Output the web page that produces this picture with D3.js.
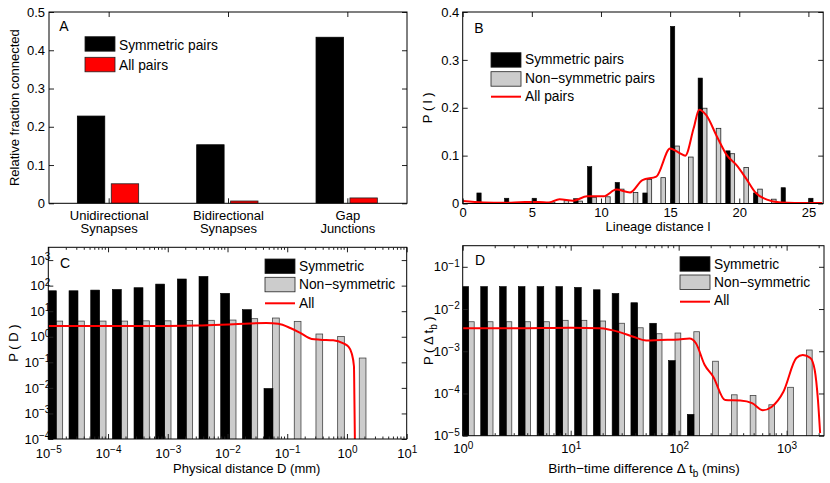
<!DOCTYPE html>
<html>
<head>
<meta charset="utf-8">
<script src="https://cdn.jsdelivr.net/npm/d3@7/dist/d3.min.js"></script>
<style>
  body { margin: 0; background: #fff; }
  svg { font-family: "Liberation Sans", Arial, Helvetica, sans-serif; font-size: 13px; }
  .leg { font-size: 13.8px; }
</style>
</head>
<body>
<div id="chart"></div>
<script>
// ---- panel A: connection fractions ----
var aCategories = [["Unidirectional", "Synapses"], ["Bidirectional", "Synapses"], ["Gap", "Junctions"]];
var aSymmetric = [0.228, 0.153, 0.434];
var aAllPairs = [0.051, 0.006, 0.014];
var aYTicks = [0, 0.1, 0.2, 0.3, 0.4, 0.5];

// ---- panel B: lineage distance ----
var bSymL = [1, 3, 5, 8, 9, 11, 13, 15, 17, 19, 21, 23, 25];
var bSymP = [0.022, 0.011, 0.011, 0.010, 0.077, 0.044, 0.022, 0.370, 0.262, 0.110, 0.022, 0.033, 0.011];
var bNonL = [6, 7, 8, 9, 10, 11, 12, 13, 14, 15, 16, 17, 18, 19, 20, 21, 22];
var bNonP = [0.003, 0.006, 0.005, 0.013, 0.014, 0.030, 0.023, 0.050, 0.054, 0.120, 0.097, 0.199, 0.157, 0.104, 0.075, 0.030, 0.009];
var bAllL = [0, 1.5, 3, 4.5, 5.5, 6.2, 7, 8, 9, 10.2, 11.1, 12.1, 13, 14, 15, 15.7, 16.1, 16.7, 17.1, 17.6, 18.4, 19.1, 19.8, 20.5, 21.2, 22, 23, 24, 26];
var bAllP = [0.005, 0.002, 0.0015, 0.003, 0.003, 0.002, 0.009, 0.006, 0.015, 0.015, 0.029, 0.023, 0.049, 0.056, 0.115, 0.105, 0.1, 0.157, 0.196, 0.185, 0.139, 0.101, 0.08, 0.052, 0.022, 0.008, 0.002, 0.001, 0.001];
var bXTicks = [0, 5, 10, 15, 20, 25];
var bYTicks = [0, 0.1, 0.2, 0.3, 0.4];

// ---- panel C: physical distance (log10 mm bin centres) ----
var cBins = [-4.816, -4.453, -4.09, -3.728, -3.365, -3.002, -2.64, -2.277, -1.914, -1.551, -1.189, -0.826, -0.463, -0.1, 0.262];
var cSym = [63, 63, 67, 71, 83, 115, 182, 229, 50, 11.5, 0.0095];
var cNon = [4.1, 4.1, 4.1, 4.1, 4.2, 4.2, 4.3, 4.4, 4.5, 5.1, 5.4, 4.0, 1.28, 1.03, 0.147];
var cAllLogD = [-5, -4, -3, -2.5, -1.9, -1.35, -1.15, -0.95, -0.79, -0.59, -0.45, -0.23, -0.06, 0.02, 0.08, 0.117, 0.125, 0.134];
var cAllP = [2.62, 2.62, 2.65, 2.75, 3.1, 3.45, 3.2, 2.2, 1.45, 0.82, 0.77, 0.73, 0.55, 0.42, 0.22, 0.07, 0.003, 0.00005];
var cXTicks = [-5, -4, -3, -2, -1, 0, 1];
var cYTicks = [-4, -3, -2, -1, 0, 1, 2, 3];

// ---- panel D: birth-time difference (log10 mins bin centres) ----
var dBins = [0.08, 0.254, 0.428, 0.602, 0.776, 0.95, 1.123, 1.297, 1.471, 1.645, 1.819, 1.993, 2.167, 2.341, 2.515, 2.689, 2.862, 3.036, 3.21];
var dSym = [0.034, 0.034, 0.034, 0.034, 0.034, 0.034, 0.0325, 0.0286, 0.0234, 0.0141, 0.0046, 0.0006, 0.000032];
var dNon = [0.005, 0.005, 0.005, 0.005, 0.005, 0.0054, 0.0054, 0.0052, 0.0046, 0.0036, 0.0026, 0.0027, 0.0029, 0.00058, 0.000093, 0.00009, 0.000054, 0.00014, 0.00107];
var dAllLogT = [0, 0.5, 1, 1.27, 1.46, 1.58, 1.7, 1.83, 2.0, 2.1, 2.16, 2.24, 2.32, 2.43, 2.57, 2.68, 2.78, 2.86, 2.97, 3.09, 3.15, 3.22, 3.26, 3.29, 3.31];
var dAllP = [0.0035, 0.0035, 0.0036, 0.0035, 0.0028, 0.0022, 0.0018, 0.00185, 0.0019, 0.002, 0.00155, 0.00048, 0.00025, 0.00007, 0.000068, 0.000059, 0.00004, 0.000048, 0.00011, 0.00069, 0.00081, 0.00069, 0.00036, 0.00007, 0.0000115];
var dXTicks = [0, 1, 2, 3];
var dYTicks = [-5, -4, -3, -2, -1];

var svgWidth = 830;
var svgHeight = 483;
var grey = "#cccccc";

var svg = d3.select("#chart").append("svg")
    .attr("width", svgWidth)
    .attr("height", svgHeight);

var boxA = {left: 49, top: 12, width: 358, height: 191.3};
var boxB = {left: 462.7, top: 12, width: 360.5, height: 191.5};
var boxC = {left: 48.3, top: 247.3, width: 358.4, height: 191.7};
var boxD = {left: 462.7, top: 245.7, width: 361.3, height: 190};

function makePanel(box, id) {
    var g = svg.append("g").attr("transform", `translate(${box.left},${box.top})`);
    g.append("clipPath").attr("id", id)
        .append("rect").attr("width", box.width).attr("height", box.height);
    var plot = g.append("g").attr("clip-path", `url(#${id})`);
    return {g: g, plot: plot};
}

function drawAxes(g, x, y, box, o) {
    var w = box.width, h = box.height;
    var gx = g.append("g").attr("transform", `translate(0,${h})`)
        .call(d3.axisBottom(x).tickValues(o.xTicks).tickSizeInner(-5).tickSizeOuter(0)
            .tickPadding(o.xPad).tickFormat(o.xFormat || (() => "")));
    g.append("g")
        .call(d3.axisTop(x).tickValues(o.xTicks).tickSizeInner(-5).tickSizeOuter(0).tickFormat(""));
    var gy = g.append("g")
        .call(d3.axisLeft(y).tickValues(o.yTicks).tickSizeInner(-5).tickSizeOuter(0)
            .tickPadding(o.yPad).tickFormat(o.yFormat || (() => "")));
    g.append("g").attr("transform", `translate(${w},0)`)
        .call(d3.axisRight(y).tickValues(o.yTicks).tickSizeInner(-5).tickSizeOuter(0).tickFormat(""));
    g.selectAll(".domain").remove();
    g.selectAll(".tick line").attr("stroke", "#222");
    g.selectAll("g").attr("font-size", null).attr("font-family", null);
    g.append("rect").attr("width", w).attr("height", h)
        .attr("fill", "none").attr("stroke", "#000").attr("stroke-width", 1);
    return {gx: gx, gy: gy};
}

function powerLabels(sel) {
    sel.selectAll(".tick text").each(function(d) {
        var t = d3.select(this);
        t.append("tspan").text("10");
        t.append("tspan").attr("dy", -4.8).style("font-size", "10px")
            .text(d < 0 ? "\u2212" + (-d) : d);
    });
}

function minorTicks(g, x, box, lo, hi) {
    var vals = [];
    for (var e = lo; e < hi; e++) {
        for (var m = 2; m <= 9; m++) vals.push(Math.log10(m) + e);
    }
    vals = vals.filter(v => v > x.domain()[0] && v < x.domain()[1]);
    g.selectAll(null).data(vals).enter().append("line")
        .attr("x1", d => x(d)).attr("x2", d => x(d))
        .attr("y1", box.height).attr("y2", box.height - 2.5)
        .attr("stroke", "#222");
    g.selectAll(null).data(vals).enter().append("line")
        .attr("x1", d => x(d)).attr("x2", d => x(d))
        .attr("y1", 0).attr("y2", 2.5)
        .attr("stroke", "#222");
}

function legend(g, x0, rows) {
    rows.forEach(function(r) {
        if (r.type === "line") {
            g.append("line").attr("x1", x0).attr("x2", x0 + 30)
                .attr("y1", r.y).attr("y2", r.y)
                .attr("stroke", "#ff0000").attr("stroke-width", 2);
        } else {
            g.append("rect").attr("x", x0).attr("y", r.y).attr("width", 30).attr("height", 14.5)
                .attr("fill", r.fill).attr("stroke", "#222").attr("stroke-width", 0.8);
        }
        g.append("text").attr("class", "leg").attr("x", x0 + 34).attr("y", r.ty).text(r.label);
    });
}

function letter(g, x, y, s) {
    g.append("text").attr("x", x).attr("y", y).style("font-size", "14px").text(s);
}

var redLine = function(x, y) {
    return d3.line().x(d => x(d[0])).y(d => y(d[1])).curve(d3.curveMonotoneX);
};

// ================= Panel A =================
(function() {
    var p = makePanel(boxA, "clipA");
    var x = d3.scaleLinear().domain([0.5, 3.5]).range([0, boxA.width]);
    var y = d3.scaleLinear().domain([0, 0.5]).range([boxA.height, 0]);
    var cats = [1, 2, 3];

    p.plot.selectAll(".sym").data(aSymmetric).enter().append("rect")
        .attr("x", (d, i) => x(cats[i]) - 31.3).attr("width", 27.4)
        .attr("y", d => y(d)).attr("height", d => y(0) - y(d))
        .attr("fill", "#000").attr("stroke", "#000").attr("stroke-width", 0.8);
    p.plot.selectAll(".all").data(aAllPairs).enter().append("rect")
        .attr("x", (d, i) => x(cats[i]) + 2.6).attr("width", 27.4)
        .attr("y", d => y(d)).attr("height", d => y(0) - y(d))
        .attr("fill", "#ff0000").attr("stroke", "#222").attr("stroke-width", 0.8);

    var ax = drawAxes(p.g, x, y, boxA, {
        xTicks: cats, xPad: 7, yTicks: aYTicks, yPad: 4,
        yFormat: d => d === 0 ? "0" : d3.format(".1f")(d)
    });
    ax.gx.selectAll(".tick text").each(function(d) {
        var t = d3.select(this);
        t.append("tspan").attr("x", 0).text(aCategories[d - 1][0]);
        t.append("tspan").attr("x", 0).attr("dy", 13.5).text(aCategories[d - 1][1]);
    });

    p.g.append("text").attr("transform", `translate(-30,${boxA.height / 2}) rotate(-90)`)
        .attr("text-anchor", "middle").text("Relative fraction connected");

    letter(p.g, 10.3, 19, "A");
    legend(p.g, 36, [
        {fill: "#000", y: 24.7, ty: 37.5, label: "Symmetric pairs"},
        {fill: "#ff0000", y: 45.3, ty: 57.5, label: "All pairs"}
    ]);
})();

// ================= Panel B =================
(function() {
    var p = makePanel(boxB, "clipB");
    var x = d3.scaleLinear().domain([0, 26.07]).range([0, boxB.width]);
    var y = d3.scaleLinear().domain([0, 0.4]).range([boxB.height, 0]);
    var symOff = 0.18, nonOff = 0.5, symW = 0.31, nonW = 0.33;

    p.plot.selectAll(".non").data(bNonP).enter().append("rect")
        .attr("x", (d, i) => x(bNonL[i] + nonOff - nonW / 2))
        .attr("width", x(nonW) - x(0))
        .attr("y", d => y(d)).attr("height", d => y(0) - y(d))
        .attr("fill", grey).attr("stroke", "#222").attr("stroke-width", 0.8);
    p.plot.selectAll(".sym").data(bSymP).enter().append("rect")
        .attr("x", (d, i) => x(bSymL[i] + symOff - symW / 2))
        .attr("width", x(symW) - x(0))
        .attr("y", d => y(d)).attr("height", d => y(0) - y(d))
        .attr("fill", "#000").attr("stroke", "#000").attr("stroke-width", 0.6);
    p.plot.append("path").datum(bAllL.map((l, i) => [l, bAllP[i]]))
        .attr("d", redLine(x, y)).attr("fill", "none")
        .attr("stroke", "#ff0000").attr("stroke-width", 2);

    drawAxes(p.g, x, y, boxB, {
        xTicks: bXTicks, xPad: 3.8, xFormat: d => d,
        yTicks: bYTicks, yPad: 3.4, yFormat: d => d === 0 ? "0" : d3.format(".1f")(d)
    });

    p.g.append("text").attr("x", boxB.width / 2 + 15).attr("y", 230.5 - boxB.top)
        .attr("text-anchor", "middle").text("Lineage distance l");
    p.g.append("text").attr("transform", `translate(-30.7,${boxB.height / 2}) rotate(-90)`)
        .attr("text-anchor", "middle").text("P ( l )");

    letter(p.g, 11.6, 21.3, "B");
    legend(p.g, 28.3, [
        {fill: "#000", y: 40.7, ty: 51.7, label: "Symmetric pairs"},
        {fill: grey, y: 59.7, ty: 70.5, label: "Non\u2212symmetric pairs"},
        {type: "line", y: 84.7, ty: 89, label: "All pairs"}
    ]);
})();

// ================= Panel C =================
(function() {
    var p = makePanel(boxC, "clipC");
    var x = d3.scaleLinear().domain([-5, 1]).range([0, boxC.width]);
    var ly = d3.scaleLinear().domain([-4, 3.5]).range([boxC.height, 0]);
    var y = v => ly(Math.log10(v));
    var symOff = -0.125, nonOff = 0, symW = 0.15, nonW = 0.112;

    p.plot.selectAll(".non").data(cNon).enter().append("rect")
        .attr("x", (d, i) => x(cBins[i] + nonOff - nonW / 2))
        .attr("width", x(nonW) - x(0))
        .attr("y", d => y(d)).attr("height", d => boxC.height - y(d) + 2)
        .attr("fill", grey).attr("stroke", "#444").attr("stroke-width", 0.8);
    p.plot.selectAll(".sym").data(cSym).enter().append("rect")
        .attr("x", (d, i) => x(cBins[i] + symOff - symW / 2))
        .attr("width", x(symW) - x(0))
        .attr("y", d => y(d)).attr("height", d => boxC.height - y(d) + 2)
        .attr("fill", "#000").attr("stroke", "#000").attr("stroke-width", 0.6);
    p.plot.append("path").datum(cAllLogD.map((l, i) => [l, cAllP[i]]))
        .attr("d", redLine(x, y)).attr("fill", "none")
        .attr("stroke", "#ff0000").attr("stroke-width", 2);

    var ax = drawAxes(p.g, x, ly, boxC, {xTicks: cXTicks, xPad: 10, yTicks: cYTicks, yPad: -2});
    powerLabels(ax.gx);
    powerLabels(ax.gy);
    minorTicks(p.g, x, boxC, -5, 1);

    p.g.append("text").attr("x", 246.7 - boxC.left).attr("y", 473.5 - boxC.top)
        .attr("text-anchor", "middle").text("Physical distance D (mm)");
    p.g.append("text").attr("transform", `translate(-30,${boxC.height / 2}) rotate(-90)`)
        .attr("text-anchor", "middle").text("P ( D )");

    letter(p.g, 11.7, 21, "C");
    legend(p.g, 216.7, [
        {fill: "#000", y: 11.7, ty: 23.3, label: "Symmetric"},
        {fill: grey, y: 30, ty: 41.7, label: "Non\u2212symmetric"},
        {type: "line", y: 56, ty: 60.4, label: "All"}
    ]);
})();

// ================= Panel D =================
(function() {
    var p = makePanel(boxD, "clipD");
    var x = d3.scaleLinear().domain([0, 3.346]).range([0, boxD.width]);
    var ly = d3.scaleLinear().domain([-5, -0.5]).range([boxD.height, 0]);
    var y = v => ly(Math.log10(v));
    var symOff = -0.056, nonOff = 0, symW = 0.062, nonW = 0.053;

    p.plot.selectAll(".non").data(dNon).enter().append("rect")
        .attr("x", (d, i) => x(dBins[i] + nonOff - nonW / 2))
        .attr("width", x(nonW) - x(0))
        .attr("y", d => y(d)).attr("height", d => boxD.height - y(d) + 2)
        .attr("fill", grey).attr("stroke", "#444").attr("stroke-width", 0.8);
    p.plot.selectAll(".sym").data(dSym).enter().append("rect")
        .attr("x", (d, i) => x(dBins[i] + symOff - symW / 2))
        .attr("width", x(symW) - x(0))
        .attr("y", d => y(d)).attr("height", d => boxD.height - y(d) + 2)
        .attr("fill", "#000").attr("stroke", "#000").attr("stroke-width", 0.6);
    p.plot.append("path").datum(dAllLogT.map((l, i) => [l, dAllP[i]]))
        .attr("d", redLine(x, y)).attr("fill", "none")
        .attr("stroke", "#ff0000").attr("stroke-width", 2);

    var ax = drawAxes(p.g, x, ly, boxD, {xTicks: dXTicks, xPad: 8.4, yTicks: dYTicks, yPad: 3});
    powerLabels(ax.gx);
    powerLabels(ax.gy);
    minorTicks(p.g, x, boxD, 0, 4);

    var xl = p.g.append("text").attr("x", 644 - boxD.left).attr("y", 473.5 - boxD.top)
        .attr("text-anchor", "middle").style("font-size", "13.6px");
    xl.append("tspan").text("Birth\u2212time difference \u0394 t");
    xl.append("tspan").attr("dy", 4).style("font-size", "10px").text("b");
    xl.append("tspan").attr("dy", -4).text(" (mins)");

    var yl = p.g.append("text").attr("transform", `translate(-29.7,${boxD.height / 2}) rotate(-90)`)
        .attr("text-anchor", "middle");
    yl.append("tspan").text("P ( \u0394 t");
    yl.append("tspan").attr("dy", 4).style("font-size", "10px").text("b");
    yl.append("tspan").attr("dy", -4).text(" )");

    letter(p.g, 12.3, 19.3, "D");
    legend(p.g, 217.3, [
        {fill: "#000", y: 11, ty: 23.3, label: "Symmetric"},
        {fill: grey, y: 29.3, ty: 41.8, label: "Non\u2212symmetric"},
        {type: "line", y: 56, ty: 59.3, label: "All"}
    ]);
})();
</script>
</body>
</html>
